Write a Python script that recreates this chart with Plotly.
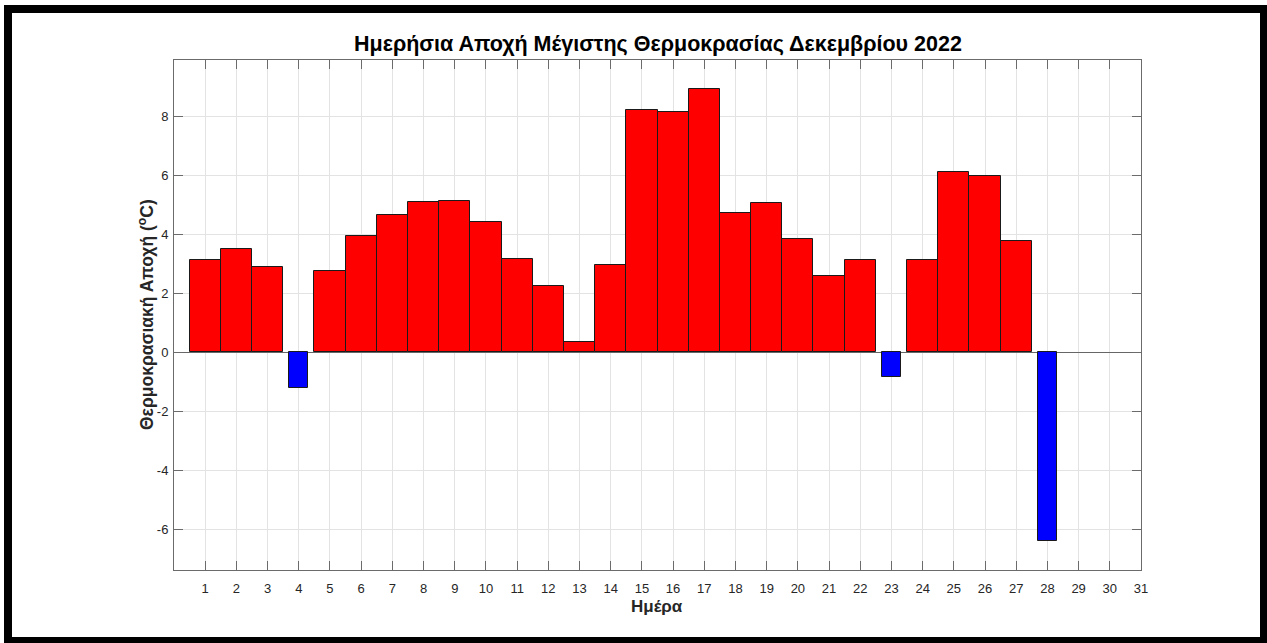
import plotly.graph_objects as go

# ---- data ----
days = list(range(1, 32))
anomaly = [3.13, 3.50, 2.88, -1.22, 2.76, 3.94, 4.66, 5.08, 5.12, 4.40,
           3.16, 2.23, 0.34, 2.95, 8.20, 8.14, 8.93, 4.72, 5.06, 3.83,
           2.58, 3.13, -0.84, 3.13, 6.12, 5.97, 3.78, -6.40, None, None, None]
x_ticks = list(range(1, 32))
y_ticks = [-6, -4, -2, 0, 2, 4, 6, 8]

title_text = "Ημερήσια Αποχή Μέγιστης Θερμοκρασίας Δεκεμβρίου 2022"
xlabel = "Ημέρα"
ylabel = "Θερμοκρασιακή Αποχή (<sup>o</sup>C)"

pos_vals = [v if (v is not None and v > 0) else None for v in anomaly]
neg_vals = [v if (v is not None and v < 0) else None for v in anomaly]

W, H = 1267, 643
L, R, T, B = 174, 1141, 60, 570   # plot area in pixels
pw, ph = R - L, B - T

def px(x):
    return (x - L) / pw

def py(y):
    return (B - y) / ph

FONT = "Liberation Sans, Arial, Helvetica, sans-serif"
AX = "#6b6b6b"
GRID = "#e3e3e3"
TXT = "#262626"

fig = go.Figure()
fig.add_trace(go.Bar(x=days, y=pos_vals, width=1.0,
                     marker=dict(color="#ff0000", line=dict(color="#1a1a1a", width=1)),
                     showlegend=False, hoverinfo="x+y"))
fig.add_trace(go.Bar(x=days, y=neg_vals, width=0.6,
                     marker=dict(color="#0000ff", line=dict(color="#1a1a1a", width=1)),
                     showlegend=False, hoverinfo="x+y"))

fig.update_layout(
    width=W, height=H,
    margin=dict(l=L, r=W - R, t=T, b=H - B, pad=0),
    paper_bgcolor="white", plot_bgcolor="white",
    barmode="overlay", bargap=0,
    font=dict(family=FONT, size=13, color=TXT),
    showlegend=False,
)

fig.update_xaxes(
    range=[0, 31], tickmode="array", tickvals=x_ticks,
    ticktext=[str(t) for t in x_ticks],
    showgrid=True, gridcolor=GRID, gridwidth=1,
    showline=True, linecolor=AX, linewidth=1, mirror="ticks",
    ticks="inside", ticklen=9, tickcolor=AX, tickwidth=1,
    tickfont=dict(family=FONT, size=13, color=TXT),
    ticklabelstandoff=6, zeroline=False,
)
fig.update_yaxes(
    range=[-7.38, 9.9], tickmode="array", tickvals=y_ticks,
    ticktext=[str(t) for t in y_ticks],
    showgrid=True, gridcolor=GRID, gridwidth=1,
    showline=True, linecolor=AX, linewidth=1, mirror="ticks",
    ticks="inside", ticklen=9, tickcolor=AX, tickwidth=1,
    tickfont=dict(family=FONT, size=13, color=TXT),
    ticklabelstandoff=2,
    zeroline=True, zerolinecolor="#666666", zerolinewidth=1,
)

annotations = [
    dict(text="<b>" + title_text + "</b>", x=px(658), y=py(44), xref="paper", yref="paper",
         showarrow=False, xanchor="center", yanchor="middle",
         font=dict(family=FONT, size=21.5, color="#000000")),
    dict(text="<b>" + xlabel + "</b>", x=px(657), y=py(606), xref="paper", yref="paper",
         showarrow=False, xanchor="center", yanchor="middle",
         font=dict(family=FONT, size=17, color=TXT)),
    dict(text="<b>" + ylabel + "</b>", x=px(146), y=py(315), xref="paper", yref="paper",
         showarrow=False, xanchor="center", yanchor="middle", textangle=-90,
         font=dict(family=FONT, size=17.5, color=TXT)),
]
fig.update_layout(annotations=annotations)

# black frame around the figure
fig.add_shape(type="rect", xref="paper", yref="paper",
              x0=px(8), x1=px(1264), y0=py(641), y1=py(9),
              line=dict(color="black", width=8), fillcolor="rgba(0,0,0,0)", layer="above")

fig.write_html("out.html", config={"displayModeBar": False},
               post_script="document.body.style.margin='0';")
